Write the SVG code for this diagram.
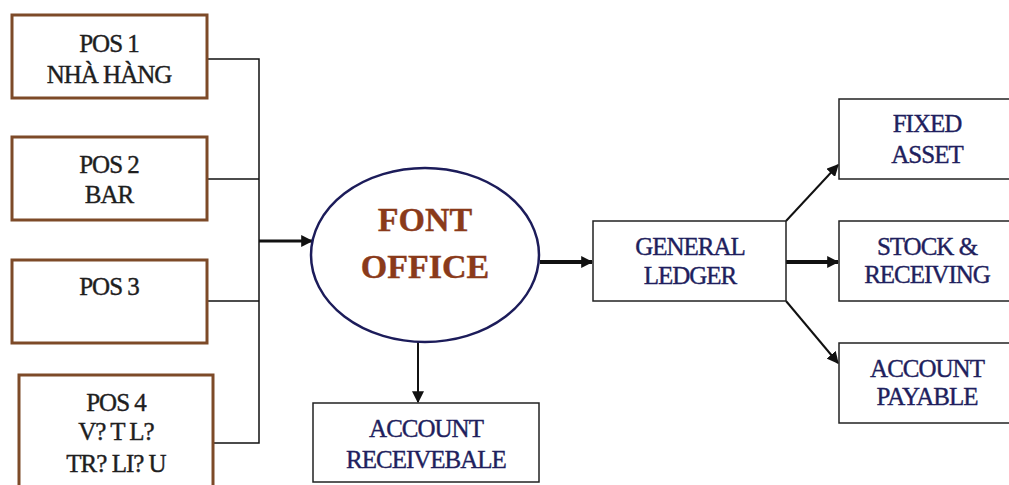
<svg xmlns="http://www.w3.org/2000/svg" width="1009" height="485" viewBox="0 0 1009 485">
<defs>
<style>
.pos{fill:#fff;stroke:#7d4a28;stroke-width:3}
.box{fill:#fff;stroke:#222;stroke-width:1.5}
.t{font-size:25px;text-anchor:middle;letter-spacing:-1px;stroke-width:0.4px}
.tp{fill:#1e1e1e;stroke:#1e1e1e}
.tn{fill:#1f1f5e;stroke:#1f1f5e}
.tf{fill:#8a3a1a;stroke:#8a3a1a;font-size:34px;font-weight:bold;letter-spacing:0}
.ln{fill:none;stroke:#111;stroke-width:1.5}
</style>
<marker id="ah" viewBox="0 0 10 10" refX="9" refY="5" markerWidth="12" markerHeight="12" markerUnits="userSpaceOnUse" orient="auto">
<path d="M0,0 L10,5 L0,10 z" fill="#111"/>
</marker>
</defs>
<rect width="1009" height="485" fill="#fff"/>
<g id="connectors">
<polyline class="ln" points="207,59 259,59 259,443 213,443"/>
<line class="ln" x1="207" y1="179" x2="259" y2="179"/>
<line class="ln" x1="207" y1="301" x2="259" y2="301"/>
<line x1="259" y1="241" x2="312" y2="241" stroke="#111" stroke-width="3" marker-end="url(#ah)"/>
<line x1="418" y1="342" x2="418" y2="402" stroke="#111" stroke-width="2" marker-end="url(#ah)"/>
<line x1="540" y1="262" x2="592" y2="262" stroke="#111" stroke-width="4" marker-end="url(#ah)"/>
<line x1="786" y1="221" x2="838" y2="165" stroke="#111" stroke-width="2" marker-end="url(#ah)"/>
<line x1="786" y1="262" x2="838" y2="262" stroke="#111" stroke-width="4" marker-end="url(#ah)"/>
<line x1="786" y1="301" x2="838" y2="363" stroke="#111" stroke-width="2" marker-end="url(#ah)"/>
</g>
<g font-family="Liberation Serif, serif">
<g id="pos1">
<rect class="pos" x="12" y="15" width="195" height="83"/>
<text class="t tp" x="109" y="52">POS 1</text>
<text class="t tp" x="109" y="83">NHÀ HÀNG</text>
</g>
<g id="pos2">
<rect class="pos" x="12" y="137" width="195" height="83"/>
<text class="t tp" x="109" y="173">POS 2</text>
<text class="t tp" x="109" y="203">BAR</text>
</g>
<g id="pos3">
<rect class="pos" x="12" y="260" width="195" height="83"/>
<text class="t tp" x="109" y="295">POS 3</text>
</g>
<g id="pos4">
<rect class="pos" x="19" y="375" width="194" height="120"/>
<text class="t tp" x="116" y="411">POS 4</text>
<text class="t tp" x="116" y="440">V? T L?</text>
<text class="t tp" x="116" y="472">TR? LI? U</text>
</g>
<g id="front-office">
<ellipse cx="425" cy="255" rx="114" ry="87" fill="#fff" stroke="#1c1c5a" stroke-width="2.5"/>
<text class="t tf" x="425" y="231">FONT</text>
<text class="t tf" x="425" y="278">OFFICE</text>
</g>
<g id="account-receivable">
<rect class="box" x="313" y="403" width="226" height="79"/>
<text class="t tn" x="426" y="437">ACCOUNT</text>
<text class="t tn" x="426" y="468">RECEIVEBALE</text>
</g>
<g id="general-ledger">
<rect class="box" x="593" y="221" width="193" height="80"/>
<text class="t tn" x="690" y="255">GENERAL</text>
<text class="t tn" x="690" y="284">LEDGER</text>
</g>
<g id="fixed-asset">
<rect class="box" x="839" y="99" width="175" height="80"/>
<text class="t tn" x="927" y="132">FIXED</text>
<text class="t tn" x="927" y="163">ASSET</text>
</g>
<g id="stock-receiving">
<rect class="box" x="839" y="221" width="175" height="80"/>
<text class="t tn" x="927" y="255">STOCK &amp;</text>
<text class="t tn" x="927" y="283">RECEIVING</text>
</g>
<g id="account-payable">
<rect class="box" x="839" y="343" width="175" height="80"/>
<text class="t tn" x="927" y="377">ACCOUNT</text>
<text class="t tn" x="927" y="405">PAYABLE</text>
</g>
</g>
</svg>
